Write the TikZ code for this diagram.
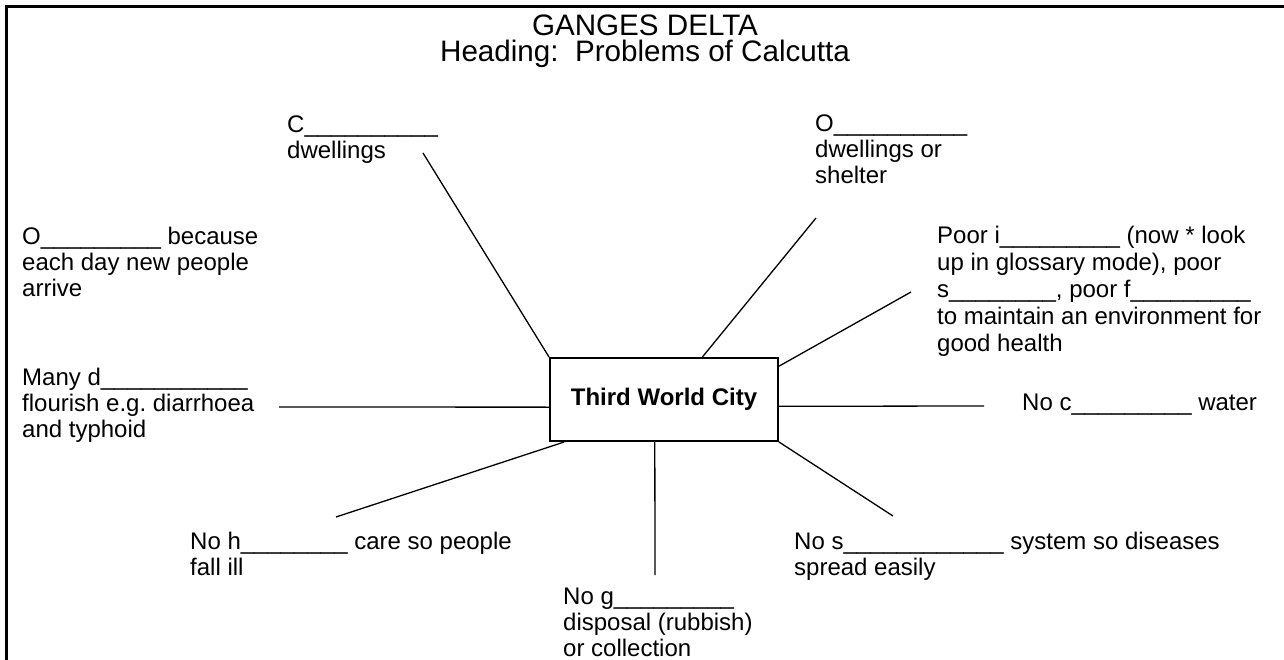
\documentclass[tikz,border=0pt]{standalone}
\usepackage{fontspec}
\setmainfont{Liberation Sans}
\usetikzlibrary{calc}
\newcount\blankcnt
\newcommand\blanks[1]{\blankcnt=#1\relax\loop\ifnum\blankcnt>0 \_\advance\blankcnt by -1\relax\repeat}
\frenchspacing
% labels are placed by the baseline of their LAST line
\tikzset{
  lbl/.style={anchor=base west, inner sep=0pt, align=left, font=\fontsize{24}{26}\selectfont},
  lblwide/.style={lbl, font=\fontsize{24}{27}\selectfont},
  conn/.style={line width=1.3pt},
  hub/.style={draw, line width=2pt, minimum width=228pt, minimum height=83pt, inner sep=0pt, font=\fontsize{24}{26}\selectfont\bfseries},
  ttl/.style={anchor=base, align=center, inner sep=0pt, font=\fontsize{29.6}{26.5}\selectfont},
  frame/.style={line width=3pt}
}
\begin{document}
\begin{tikzpicture}[x=1pt, y=-1pt]
\useasboundingbox (0,0) rectangle (1284,660);
% frame (top and left edges)
\coordinate (fa) at (6.5,660);
\coordinate (fb) at (6.5,6.5);
\coordinate (fc) at (1284,6.5);
\draw[frame] (fa) -- (fb) -- (fc);
% title
\node[ttl] (title) at (645,62) {GANGES DELTA\\Heading:\ \ Problems of Calcutta};
% hub
\node[hub] (hub) at (664,399.5) {Third World City};
% labels
\node[lbl] (tC) at (287,158.5) {C\blanks{10}\\dwellings};
\node[lbl] (tO) at (815,184) {O\blanks{10}\\dwellings or\\shelter};
\node[lbl] (tOv) at (22,296) {O\blanks{9} because\\each day new people\\arrive};
\node[lbl] (tMany) at (22,437) {Many d\blanks{11}\\flourish e.g. diarrhoea\\and typhoid};
\node[lblwide] (tPoor) at (937,351.5) {Poor i\blanks{9} (now * look\\up in glossary mode), poor\\s\blanks{8}, poor f\blanks{9}\\to maintain an environment for\\good health};
\node[lbl] (tNoc) at (1022,410) {No c\blanks{9} water};
\node[lbl] (tNoh) at (190,575) {No h\blanks{8} care so people\\fall ill};
\node[lbl] (tNog) at (563,656.5) {No g\blanks{9}\\disposal (rubbish)\\or collection};
\node[lbl] (tNos) at (794,575) {No s\blanks{12} system so diseases\\spread easily};
% free ends of connectors
\coordinate (c1) at (423,153);
\coordinate (c2) at (816,218);
\coordinate (c3) at (911,292);
\coordinate (c4) at (984,406);
\coordinate (c5) at (279,407);
\coordinate (c6) at (336,517);
\coordinate (c7) at (655,575);
\coordinate (c8) at (893,516);
% connectors
\draw[conn] (c1) -- (hub.north west);
\draw[conn] (c2) -- ($(hub.north west)!0.667!(hub.north east)$);
\draw[conn] (c3) -- ($(hub.north east)!0.108!(hub.south east)$);
\draw[conn] ($(hub.north east)!0.58!(hub.south east)$) -- (c4);
\draw[conn] (c5) -- ($(hub.north west)!0.59!(hub.south west)$);
\draw[conn] (c6) -- ($(hub.south west)!0.066!(hub.south east)$);
\draw[conn] (c7) -- ($(hub.south west)!0.46!(hub.south east)$);
\draw[conn] (c8) -- (hub.south east);
\end{tikzpicture}
\end{document}
